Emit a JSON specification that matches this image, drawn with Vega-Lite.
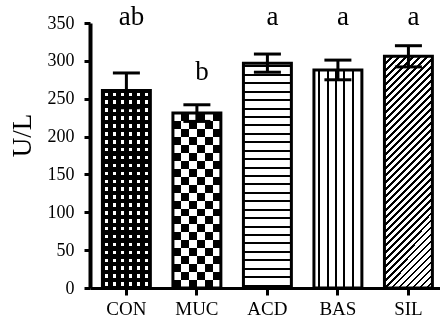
{
"$schema": "https://vega.github.io/schema/vega-lite/v6.json",
"autosize": {"type": "none"},
"padding": {"left": 90, "top": 23, "right": 0, "bottom": 34},
"width": 350,
"height": 265,
"config": {
 "view": {"stroke": null},
 "font": "Liberation Serif",
 "axis": {"labelFont": "Liberation Serif", "titleFont": "Liberation Serif", "labelColor": "#000", "titleColor": "#000", "domainColor": "#000", "tickColor": "#000", "grid": false}
},
"data": {"values": [
 {"group": "CON", "mean": 261, "lo": 238, "hi": 284, "sig": "ab", "sig_y": 347},
 {"group": "MUC", "mean": 231, "lo": 220, "hi": 242, "sig": "b", "sig_y": 275},
 {"group": "ACD", "mean": 297, "lo": 285, "hi": 309, "sig": "a", "sig_y": 347},
 {"group": "BAS", "mean": 288, "lo": 275, "hi": 301, "sig": "a", "sig_y": 347},
 {"group": "SIL", "mean": 306, "lo": 292, "hi": 320, "sig": "a", "sig_y": 347}
]},
"encoding": {
 "x": {"field": "group", "type": "nominal",
  "scale": {"domain": ["CON", "MUC", "ACD", "BAS", "SIL"], "paddingInner": 0.32, "paddingOuter": 0.142, "align": 0.62},
  "axis": {"title": null, "labelAngle": 0, "labelFontSize": 19, "tickSize": 7, "labelPadding": 4, "domainWidth": 3, "tickWidth": 3}},
 "y": {"field": "mean", "type": "quantitative", "title": "U/L",
  "scale": {"domain": [0, 350], "nice": false},
  "axis": {"values": [0, 50, 100, 150, 200, 250, 300, 350], "labelFontSize": 18, "tickSize": 6, "labelPadding": 10, "domainWidth": 4, "tickWidth": 3,
   "titleFontSize": 27, "titleFontWeight": "normal", "titleX": -60, "titleY": 112, "titleAngle": -90, "titleAlign": "center", "titleBaseline": "alphabetic"}}
},
"layer": [
 {"transform": [{"filter": "datum.group === 'CON'"}],
  "mark": {"type": "bar", "strokeWidth": 0, "fill": {"gradient": "linear", "x1": 0, "y1": 0, "x2": 0, "y2": 1, "stops": [
   {"offset": 0.011, "color": "#000"}, {"offset": 0.011, "color": "#fff"}, {"offset": 0.029, "color": "#fff"}, {"offset": 0.029, "color": "#000"},
   {"offset": 0.051, "color": "#000"}, {"offset": 0.051, "color": "#fff"}, {"offset": 0.069, "color": "#fff"}, {"offset": 0.069, "color": "#000"},
   {"offset": 0.091, "color": "#000"}, {"offset": 0.091, "color": "#fff"}, {"offset": 0.109, "color": "#fff"}, {"offset": 0.109, "color": "#000"},
   {"offset": 0.131, "color": "#000"}, {"offset": 0.131, "color": "#fff"}, {"offset": 0.149, "color": "#fff"}, {"offset": 0.149, "color": "#000"},
   {"offset": 0.171, "color": "#000"}, {"offset": 0.171, "color": "#fff"}, {"offset": 0.189, "color": "#fff"}, {"offset": 0.189, "color": "#000"},
   {"offset": 0.211, "color": "#000"}, {"offset": 0.211, "color": "#fff"}, {"offset": 0.229, "color": "#fff"}, {"offset": 0.229, "color": "#000"},
   {"offset": 0.251, "color": "#000"}, {"offset": 0.251, "color": "#fff"}, {"offset": 0.269, "color": "#fff"}, {"offset": 0.269, "color": "#000"},
   {"offset": 0.291, "color": "#000"}, {"offset": 0.291, "color": "#fff"}, {"offset": 0.309, "color": "#fff"}, {"offset": 0.309, "color": "#000"},
   {"offset": 0.331, "color": "#000"}, {"offset": 0.331, "color": "#fff"}, {"offset": 0.349, "color": "#fff"}, {"offset": 0.349, "color": "#000"},
   {"offset": 0.371, "color": "#000"}, {"offset": 0.371, "color": "#fff"}, {"offset": 0.389, "color": "#fff"}, {"offset": 0.389, "color": "#000"},
   {"offset": 0.411, "color": "#000"}, {"offset": 0.411, "color": "#fff"}, {"offset": 0.429, "color": "#fff"}, {"offset": 0.429, "color": "#000"},
   {"offset": 0.451, "color": "#000"}, {"offset": 0.451, "color": "#fff"}, {"offset": 0.469, "color": "#fff"}, {"offset": 0.469, "color": "#000"},
   {"offset": 0.491, "color": "#000"}, {"offset": 0.491, "color": "#fff"}, {"offset": 0.509, "color": "#fff"}, {"offset": 0.509, "color": "#000"},
   {"offset": 0.531, "color": "#000"}, {"offset": 0.531, "color": "#fff"}, {"offset": 0.549, "color": "#fff"}, {"offset": 0.549, "color": "#000"},
   {"offset": 0.571, "color": "#000"}, {"offset": 0.571, "color": "#fff"}, {"offset": 0.589, "color": "#fff"}, {"offset": 0.589, "color": "#000"},
   {"offset": 0.611, "color": "#000"}, {"offset": 0.611, "color": "#fff"}, {"offset": 0.629, "color": "#fff"}, {"offset": 0.629, "color": "#000"},
   {"offset": 0.651, "color": "#000"}, {"offset": 0.651, "color": "#fff"}, {"offset": 0.669, "color": "#fff"}, {"offset": 0.669, "color": "#000"},
   {"offset": 0.691, "color": "#000"}, {"offset": 0.691, "color": "#fff"}, {"offset": 0.709, "color": "#fff"}, {"offset": 0.709, "color": "#000"},
   {"offset": 0.731, "color": "#000"}, {"offset": 0.731, "color": "#fff"}, {"offset": 0.749, "color": "#fff"}, {"offset": 0.749, "color": "#000"},
   {"offset": 0.771, "color": "#000"}, {"offset": 0.771, "color": "#fff"}, {"offset": 0.789, "color": "#fff"}, {"offset": 0.789, "color": "#000"},
   {"offset": 0.811, "color": "#000"}, {"offset": 0.811, "color": "#fff"}, {"offset": 0.829, "color": "#fff"}, {"offset": 0.829, "color": "#000"},
   {"offset": 0.851, "color": "#000"}, {"offset": 0.851, "color": "#fff"}, {"offset": 0.869, "color": "#fff"}, {"offset": 0.869, "color": "#000"},
   {"offset": 0.891, "color": "#000"}, {"offset": 0.891, "color": "#fff"}, {"offset": 0.909, "color": "#fff"}, {"offset": 0.909, "color": "#000"},
   {"offset": 0.931, "color": "#000"}, {"offset": 0.931, "color": "#fff"}, {"offset": 0.949, "color": "#fff"}, {"offset": 0.949, "color": "#000"},
   {"offset": 0.971, "color": "#000"}, {"offset": 0.971, "color": "#fff"}, {"offset": 0.989, "color": "#fff"}, {"offset": 0.989, "color": "#000"}
  ]}}},
 {"transform": [{"filter": "datum.group === 'CON'"}],
  "mark": {"type": "bar", "strokeWidth": 0, "fill": {"gradient": "linear", "x1": 0, "y1": 0, "x2": 1, "y2": 0, "stops": [
   {"offset": 0.045, "color": "#000"}, {"offset": 0.045, "color": "rgba(0,0,0,0)"}, {"offset": 0.125, "color": "rgba(0,0,0,0)"}, {"offset": 0.125, "color": "#000"},
   {"offset": 0.2117, "color": "#000"}, {"offset": 0.2117, "color": "rgba(0,0,0,0)"}, {"offset": 0.2917, "color": "rgba(0,0,0,0)"}, {"offset": 0.2917, "color": "#000"},
   {"offset": 0.3783, "color": "#000"}, {"offset": 0.3783, "color": "rgba(0,0,0,0)"}, {"offset": 0.4583, "color": "rgba(0,0,0,0)"}, {"offset": 0.4583, "color": "#000"},
   {"offset": 0.545, "color": "#000"}, {"offset": 0.545, "color": "rgba(0,0,0,0)"}, {"offset": 0.625, "color": "rgba(0,0,0,0)"}, {"offset": 0.625, "color": "#000"},
   {"offset": 0.7117, "color": "#000"}, {"offset": 0.7117, "color": "rgba(0,0,0,0)"}, {"offset": 0.7917, "color": "rgba(0,0,0,0)"}, {"offset": 0.7917, "color": "#000"},
   {"offset": 0.8783, "color": "#000"}, {"offset": 0.8783, "color": "rgba(0,0,0,0)"}, {"offset": 0.9583, "color": "rgba(0,0,0,0)"}, {"offset": 0.9583, "color": "#000"}
  ]}}},
 {"transform": [{"filter": "datum.group === 'MUC'"}],
  "mark": {"type": "bar", "strokeWidth": 0, "fill": {"gradient": "linear", "x1": 0, "y1": 0, "x2": 0, "y2": 1, "stops": [
   {"offset": 0, "color": "#000"}, {"offset": 0.0455, "color": "#000"}, {"offset": 0.0455, "color": "#fff"}, {"offset": 0.0909, "color": "#fff"},
   {"offset": 0.0909, "color": "#000"}, {"offset": 0.1364, "color": "#000"}, {"offset": 0.1364, "color": "#fff"}, {"offset": 0.1818, "color": "#fff"},
   {"offset": 0.1818, "color": "#000"}, {"offset": 0.2273, "color": "#000"}, {"offset": 0.2273, "color": "#fff"}, {"offset": 0.2727, "color": "#fff"},
   {"offset": 0.2727, "color": "#000"}, {"offset": 0.3182, "color": "#000"}, {"offset": 0.3182, "color": "#fff"}, {"offset": 0.3636, "color": "#fff"},
   {"offset": 0.3636, "color": "#000"}, {"offset": 0.4091, "color": "#000"}, {"offset": 0.4091, "color": "#fff"}, {"offset": 0.4545, "color": "#fff"},
   {"offset": 0.4545, "color": "#000"}, {"offset": 0.5, "color": "#000"}, {"offset": 0.5, "color": "#fff"}, {"offset": 0.5455, "color": "#fff"},
   {"offset": 0.5455, "color": "#000"}, {"offset": 0.5909, "color": "#000"}, {"offset": 0.5909, "color": "#fff"}, {"offset": 0.6364, "color": "#fff"},
   {"offset": 0.6364, "color": "#000"}, {"offset": 0.6818, "color": "#000"}, {"offset": 0.6818, "color": "#fff"}, {"offset": 0.7273, "color": "#fff"},
   {"offset": 0.7273, "color": "#000"}, {"offset": 0.7727, "color": "#000"}, {"offset": 0.7727, "color": "#fff"}, {"offset": 0.8182, "color": "#fff"},
   {"offset": 0.8182, "color": "#000"}, {"offset": 0.8636, "color": "#000"}, {"offset": 0.8636, "color": "#fff"}, {"offset": 0.9091, "color": "#fff"},
   {"offset": 0.9091, "color": "#000"}, {"offset": 0.9545, "color": "#000"}, {"offset": 0.9545, "color": "#fff"}, {"offset": 1, "color": "#fff"}
  ]}}},
 {"transform": [{"filter": "datum.group === 'MUC'"}],
  "mark": {"type": "bar", "strokeWidth": 0, "blend": "difference", "fill": {"gradient": "linear", "x1": 0, "y1": 0, "x2": 1, "y2": 0, "stops": [
   {"offset": 0, "color": "#fff"}, {"offset": 0.1667, "color": "#fff"}, {"offset": 0.1667, "color": "#000"}, {"offset": 0.3333, "color": "#000"},
   {"offset": 0.3333, "color": "#fff"}, {"offset": 0.5, "color": "#fff"}, {"offset": 0.5, "color": "#000"}, {"offset": 0.6667, "color": "#000"},
   {"offset": 0.6667, "color": "#fff"}, {"offset": 0.8333, "color": "#fff"}, {"offset": 0.8333, "color": "#000"}, {"offset": 1, "color": "#000"}
  ]}}},
 {"transform": [{"filter": "datum.group === 'ACD'"}],
  "mark": {"type": "bar", "strokeWidth": 0, "fill": {"gradient": "linear", "x1": 0, "y1": 0, "x2": 0, "y2": 1, "stops": [
   {"offset": 0.01, "color": "#fff"}, {"offset": 0.01, "color": "#000"}, {"offset": 0.019, "color": "#000"}, {"offset": 0.019, "color": "#fff"},
   {"offset": 0.0475, "color": "#fff"}, {"offset": 0.0475, "color": "#000"}, {"offset": 0.0565, "color": "#000"}, {"offset": 0.0565, "color": "#fff"},
   {"offset": 0.085, "color": "#fff"}, {"offset": 0.085, "color": "#000"}, {"offset": 0.094, "color": "#000"}, {"offset": 0.094, "color": "#fff"},
   {"offset": 0.1225, "color": "#fff"}, {"offset": 0.1225, "color": "#000"}, {"offset": 0.1315, "color": "#000"}, {"offset": 0.1315, "color": "#fff"},
   {"offset": 0.16, "color": "#fff"}, {"offset": 0.16, "color": "#000"}, {"offset": 0.169, "color": "#000"}, {"offset": 0.169, "color": "#fff"},
   {"offset": 0.1975, "color": "#fff"}, {"offset": 0.1975, "color": "#000"}, {"offset": 0.2065, "color": "#000"}, {"offset": 0.2065, "color": "#fff"},
   {"offset": 0.235, "color": "#fff"}, {"offset": 0.235, "color": "#000"}, {"offset": 0.244, "color": "#000"}, {"offset": 0.244, "color": "#fff"},
   {"offset": 0.2725, "color": "#fff"}, {"offset": 0.2725, "color": "#000"}, {"offset": 0.2815, "color": "#000"}, {"offset": 0.2815, "color": "#fff"},
   {"offset": 0.31, "color": "#fff"}, {"offset": 0.31, "color": "#000"}, {"offset": 0.319, "color": "#000"}, {"offset": 0.319, "color": "#fff"},
   {"offset": 0.3475, "color": "#fff"}, {"offset": 0.3475, "color": "#000"}, {"offset": 0.3565, "color": "#000"}, {"offset": 0.3565, "color": "#fff"},
   {"offset": 0.385, "color": "#fff"}, {"offset": 0.385, "color": "#000"}, {"offset": 0.394, "color": "#000"}, {"offset": 0.394, "color": "#fff"},
   {"offset": 0.4225, "color": "#fff"}, {"offset": 0.4225, "color": "#000"}, {"offset": 0.4315, "color": "#000"}, {"offset": 0.4315, "color": "#fff"},
   {"offset": 0.46, "color": "#fff"}, {"offset": 0.46, "color": "#000"}, {"offset": 0.469, "color": "#000"}, {"offset": 0.469, "color": "#fff"},
   {"offset": 0.4975, "color": "#fff"}, {"offset": 0.4975, "color": "#000"}, {"offset": 0.5065, "color": "#000"}, {"offset": 0.5065, "color": "#fff"},
   {"offset": 0.535, "color": "#fff"}, {"offset": 0.535, "color": "#000"}, {"offset": 0.544, "color": "#000"}, {"offset": 0.544, "color": "#fff"},
   {"offset": 0.5725, "color": "#fff"}, {"offset": 0.5725, "color": "#000"}, {"offset": 0.5815, "color": "#000"}, {"offset": 0.5815, "color": "#fff"},
   {"offset": 0.61, "color": "#fff"}, {"offset": 0.61, "color": "#000"}, {"offset": 0.619, "color": "#000"}, {"offset": 0.619, "color": "#fff"},
   {"offset": 0.6475, "color": "#fff"}, {"offset": 0.6475, "color": "#000"}, {"offset": 0.6565, "color": "#000"}, {"offset": 0.6565, "color": "#fff"},
   {"offset": 0.685, "color": "#fff"}, {"offset": 0.685, "color": "#000"}, {"offset": 0.694, "color": "#000"}, {"offset": 0.694, "color": "#fff"},
   {"offset": 0.7225, "color": "#fff"}, {"offset": 0.7225, "color": "#000"}, {"offset": 0.7315, "color": "#000"}, {"offset": 0.7315, "color": "#fff"},
   {"offset": 0.76, "color": "#fff"}, {"offset": 0.76, "color": "#000"}, {"offset": 0.769, "color": "#000"}, {"offset": 0.769, "color": "#fff"},
   {"offset": 0.7975, "color": "#fff"}, {"offset": 0.7975, "color": "#000"}, {"offset": 0.8065, "color": "#000"}, {"offset": 0.8065, "color": "#fff"},
   {"offset": 0.835, "color": "#fff"}, {"offset": 0.835, "color": "#000"}, {"offset": 0.844, "color": "#000"}, {"offset": 0.844, "color": "#fff"},
   {"offset": 0.8725, "color": "#fff"}, {"offset": 0.8725, "color": "#000"}, {"offset": 0.8815, "color": "#000"}, {"offset": 0.8815, "color": "#fff"},
   {"offset": 0.91, "color": "#fff"}, {"offset": 0.91, "color": "#000"}, {"offset": 0.919, "color": "#000"}, {"offset": 0.919, "color": "#fff"},
   {"offset": 0.9475, "color": "#fff"}, {"offset": 0.9475, "color": "#000"}, {"offset": 0.9565, "color": "#000"}, {"offset": 0.9565, "color": "#fff"},
   {"offset": 0.985, "color": "#fff"}, {"offset": 0.985, "color": "#000"}, {"offset": 0.994, "color": "#000"}, {"offset": 0.994, "color": "#fff"}
  ]}}},
 {"transform": [{"filter": "datum.group === 'BAS'"}],
  "mark": {"type": "bar", "strokeWidth": 0, "fill": {"gradient": "linear", "x1": 0, "y1": 0, "x2": 1, "y2": 0, "stops": [
   {"offset": 0.094, "color": "#fff"}, {"offset": 0.094, "color": "#000"}, {"offset": 0.136, "color": "#000"}, {"offset": 0.136, "color": "#fff"},
   {"offset": 0.267, "color": "#fff"}, {"offset": 0.267, "color": "#000"}, {"offset": 0.309, "color": "#000"}, {"offset": 0.309, "color": "#fff"},
   {"offset": 0.439, "color": "#fff"}, {"offset": 0.439, "color": "#000"}, {"offset": 0.481, "color": "#000"}, {"offset": 0.481, "color": "#fff"},
   {"offset": 0.612, "color": "#fff"}, {"offset": 0.612, "color": "#000"}, {"offset": 0.654, "color": "#000"}, {"offset": 0.654, "color": "#fff"},
   {"offset": 0.785, "color": "#fff"}, {"offset": 0.785, "color": "#000"}, {"offset": 0.827, "color": "#000"}, {"offset": 0.827, "color": "#fff"}
  ]}}},
 {"transform": [{"filter": "datum.group === 'SIL'"}],
  "mark": {"type": "bar", "strokeWidth": 0, "fill": {"gradient": "linear", "x1": 0, "y1": 0, "x2": 0.2398, "y2": 1.1575, "stops": [
   {"offset": 0, "color": "#000"}, {"offset": 0.009, "color": "#000"}, {"offset": 0.009, "color": "#fff"},
   {"offset": 0.025, "color": "#fff"}, {"offset": 0.025, "color": "#000"}, {"offset": 0.034, "color": "#000"}, {"offset": 0.034, "color": "#fff"},
   {"offset": 0.05, "color": "#fff"}, {"offset": 0.05, "color": "#000"}, {"offset": 0.059, "color": "#000"}, {"offset": 0.059, "color": "#fff"},
   {"offset": 0.075, "color": "#fff"}, {"offset": 0.075, "color": "#000"}, {"offset": 0.084, "color": "#000"}, {"offset": 0.084, "color": "#fff"},
   {"offset": 0.1, "color": "#fff"}, {"offset": 0.1, "color": "#000"}, {"offset": 0.109, "color": "#000"}, {"offset": 0.109, "color": "#fff"},
   {"offset": 0.125, "color": "#fff"}, {"offset": 0.125, "color": "#000"}, {"offset": 0.134, "color": "#000"}, {"offset": 0.134, "color": "#fff"},
   {"offset": 0.15, "color": "#fff"}, {"offset": 0.15, "color": "#000"}, {"offset": 0.159, "color": "#000"}, {"offset": 0.159, "color": "#fff"},
   {"offset": 0.175, "color": "#fff"}, {"offset": 0.175, "color": "#000"}, {"offset": 0.184, "color": "#000"}, {"offset": 0.184, "color": "#fff"},
   {"offset": 0.2, "color": "#fff"}, {"offset": 0.2, "color": "#000"}, {"offset": 0.209, "color": "#000"}, {"offset": 0.209, "color": "#fff"},
   {"offset": 0.225, "color": "#fff"}, {"offset": 0.225, "color": "#000"}, {"offset": 0.234, "color": "#000"}, {"offset": 0.234, "color": "#fff"},
   {"offset": 0.25, "color": "#fff"}, {"offset": 0.25, "color": "#000"}, {"offset": 0.259, "color": "#000"}, {"offset": 0.259, "color": "#fff"},
   {"offset": 0.275, "color": "#fff"}, {"offset": 0.275, "color": "#000"}, {"offset": 0.284, "color": "#000"}, {"offset": 0.284, "color": "#fff"},
   {"offset": 0.3, "color": "#fff"}, {"offset": 0.3, "color": "#000"}, {"offset": 0.309, "color": "#000"}, {"offset": 0.309, "color": "#fff"},
   {"offset": 0.325, "color": "#fff"}, {"offset": 0.325, "color": "#000"}, {"offset": 0.334, "color": "#000"}, {"offset": 0.334, "color": "#fff"},
   {"offset": 0.35, "color": "#fff"}, {"offset": 0.35, "color": "#000"}, {"offset": 0.359, "color": "#000"}, {"offset": 0.359, "color": "#fff"},
   {"offset": 0.375, "color": "#fff"}, {"offset": 0.375, "color": "#000"}, {"offset": 0.384, "color": "#000"}, {"offset": 0.384, "color": "#fff"},
   {"offset": 0.4, "color": "#fff"}, {"offset": 0.4, "color": "#000"}, {"offset": 0.409, "color": "#000"}, {"offset": 0.409, "color": "#fff"},
   {"offset": 0.425, "color": "#fff"}, {"offset": 0.425, "color": "#000"}, {"offset": 0.434, "color": "#000"}, {"offset": 0.434, "color": "#fff"},
   {"offset": 0.45, "color": "#fff"}, {"offset": 0.45, "color": "#000"}, {"offset": 0.459, "color": "#000"}, {"offset": 0.459, "color": "#fff"},
   {"offset": 0.475, "color": "#fff"}, {"offset": 0.475, "color": "#000"}, {"offset": 0.484, "color": "#000"}, {"offset": 0.484, "color": "#fff"},
   {"offset": 0.5, "color": "#fff"}, {"offset": 0.5, "color": "#000"}, {"offset": 0.509, "color": "#000"}, {"offset": 0.509, "color": "#fff"},
   {"offset": 0.525, "color": "#fff"}, {"offset": 0.525, "color": "#000"}, {"offset": 0.534, "color": "#000"}, {"offset": 0.534, "color": "#fff"},
   {"offset": 0.55, "color": "#fff"}, {"offset": 0.55, "color": "#000"}, {"offset": 0.559, "color": "#000"}, {"offset": 0.559, "color": "#fff"},
   {"offset": 0.575, "color": "#fff"}, {"offset": 0.575, "color": "#000"}, {"offset": 0.584, "color": "#000"}, {"offset": 0.584, "color": "#fff"},
   {"offset": 0.6, "color": "#fff"}, {"offset": 0.6, "color": "#000"}, {"offset": 0.609, "color": "#000"}, {"offset": 0.609, "color": "#fff"},
   {"offset": 0.625, "color": "#fff"}, {"offset": 0.625, "color": "#000"}, {"offset": 0.634, "color": "#000"}, {"offset": 0.634, "color": "#fff"},
   {"offset": 0.65, "color": "#fff"}, {"offset": 0.65, "color": "#000"}, {"offset": 0.659, "color": "#000"}, {"offset": 0.659, "color": "#fff"},
   {"offset": 0.675, "color": "#fff"}, {"offset": 0.675, "color": "#000"}, {"offset": 0.684, "color": "#000"}, {"offset": 0.684, "color": "#fff"},
   {"offset": 0.7, "color": "#fff"}, {"offset": 0.7, "color": "#000"}, {"offset": 0.709, "color": "#000"}, {"offset": 0.709, "color": "#fff"},
   {"offset": 0.725, "color": "#fff"}, {"offset": 0.725, "color": "#000"}, {"offset": 0.734, "color": "#000"}, {"offset": 0.734, "color": "#fff"},
   {"offset": 0.75, "color": "#fff"}, {"offset": 0.75, "color": "#000"}, {"offset": 0.759, "color": "#000"}, {"offset": 0.759, "color": "#fff"},
   {"offset": 0.775, "color": "#fff"}, {"offset": 0.775, "color": "#000"}, {"offset": 0.784, "color": "#000"}, {"offset": 0.784, "color": "#fff"},
   {"offset": 0.8, "color": "#fff"}, {"offset": 0.8, "color": "#000"}, {"offset": 0.809, "color": "#000"}, {"offset": 0.809, "color": "#fff"},
   {"offset": 0.825, "color": "#fff"}, {"offset": 0.825, "color": "#000"}, {"offset": 0.834, "color": "#000"}, {"offset": 0.834, "color": "#fff"},
   {"offset": 0.85, "color": "#fff"}, {"offset": 0.85, "color": "#000"}, {"offset": 0.859, "color": "#000"}, {"offset": 0.859, "color": "#fff"},
   {"offset": 0.875, "color": "#fff"}, {"offset": 0.875, "color": "#000"}, {"offset": 0.884, "color": "#000"}, {"offset": 0.884, "color": "#fff"},
   {"offset": 0.9, "color": "#fff"}, {"offset": 0.9, "color": "#000"}, {"offset": 0.909, "color": "#000"}, {"offset": 0.909, "color": "#fff"},
   {"offset": 0.925, "color": "#fff"}, {"offset": 0.925, "color": "#000"}, {"offset": 0.934, "color": "#000"}, {"offset": 0.934, "color": "#fff"},
   {"offset": 0.95, "color": "#fff"}, {"offset": 0.95, "color": "#000"}, {"offset": 0.959, "color": "#000"}, {"offset": 0.959, "color": "#fff"},
   {"offset": 0.975, "color": "#fff"}, {"offset": 0.975, "color": "#000"}, {"offset": 0.984, "color": "#000"}, {"offset": 0.984, "color": "#fff"}
  ]}}},
 {"mark": {"type": "bar", "fill": "#fff", "fillOpacity": 0, "stroke": "#000", "strokeWidth": 3}},
 {"mark": {"type": "rule", "color": "#000", "strokeWidth": 3},
  "encoding": {"y": {"field": "lo", "type": "quantitative", "title": "U/L", "scale": {"domain": [0, 350], "nice": false}}, "y2": {"field": "hi"}}},
 {"mark": {"type": "tick", "color": "#000", "size": 27, "thickness": 3, "opacity": 1},
  "encoding": {"y": {"field": "hi", "type": "quantitative", "title": "U/L", "scale": {"domain": [0, 350], "nice": false}}}},
 {"mark": {"type": "tick", "color": "#000", "size": 27, "thickness": 3, "opacity": 1},
  "encoding": {"y": {"field": "lo", "type": "quantitative", "title": "U/L", "scale": {"domain": [0, 350], "nice": false}}}},
 {"mark": {"type": "text", "font": "Liberation Serif", "fontSize": 27, "baseline": "alphabetic", "align": "center", "dx": 5, "color": "#000"},
  "encoding": {"y": {"field": "sig_y", "type": "quantitative", "title": "U/L", "scale": {"domain": [0, 350], "nice": false}}, "text": {"field": "sig"}}}
]
}
